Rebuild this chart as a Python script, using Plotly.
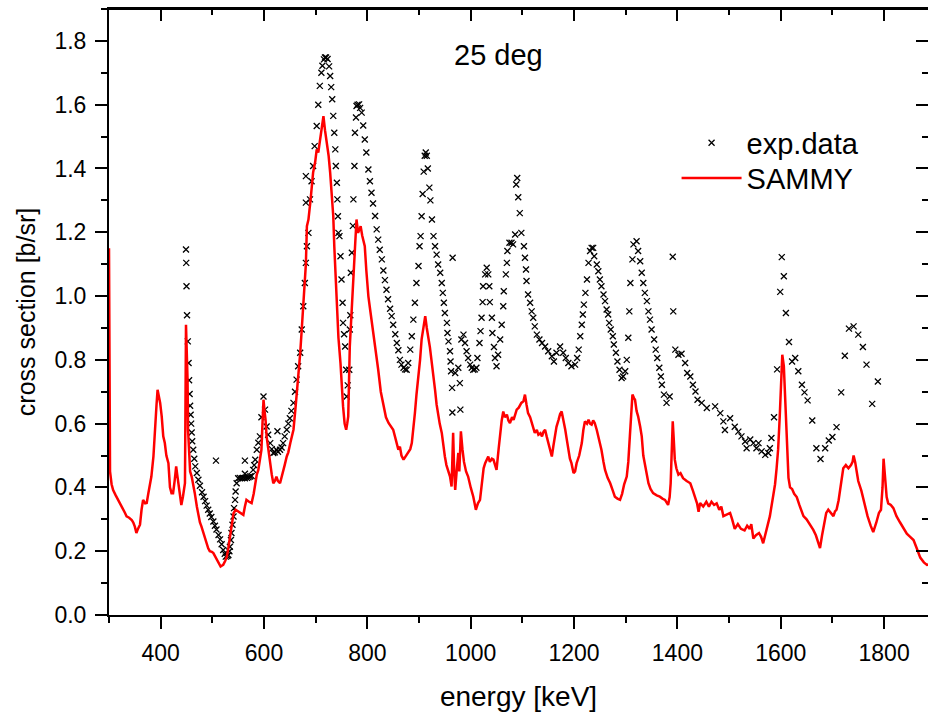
import plotly.graph_objects as go

# experimental points (energy in keV, cross section in b/sr)
exp_energy = [
    449, 449.5, 450, 451, 452.5, 454, 455, 456, 457, 458, 459, 460,
    461, 463, 465, 467, 470, 473, 476, 480, 483, 486, 489, 492, 495, 498,
    502, 505, 508, 512, 515, 518, 521, 524, 526, 529, 531, 533, 534, 536,
    537, 539, 541, 542, 544, 545, 547, 550, 553, 557, 560, 563, 567, 570,
    573, 576, 579, 581, 583, 586, 589, 592, 595, 599, 602, 605, 608, 612,
    615, 618, 621, 624, 627, 631, 634, 637, 640, 644, 647, 650, 653, 657,
    660, 663, 666, 670, 673, 676, 679, 681, 683, 686, 689, 692, 695, 698,
    702, 705, 708, 711, 713, 716, 718, 720, 723, 726, 728, 730, 732, 734,
    736, 738, 739, 741, 742, 743, 744, 746, 748, 750, 752, 753, 755, 757,
    759, 760, 762, 765, 766, 767, 768, 770, 772, 773, 775, 776, 778, 779,
    781, 784, 786, 789, 792, 795, 798, 802, 805, 808, 811, 815, 818, 821,
    824, 828, 831, 834, 837, 840, 844, 847, 850, 854, 857, 860, 863, 866,
    870, 873, 876, 879, 883, 886, 889, 892, 895, 899, 901, 903, 905, 907,
    909, 911, 913, 915, 917, 920, 922, 925, 928, 931, 934, 937, 941, 944,
    946, 948, 950, 954, 955, 957, 960, 961, 962, 964, 964.5, 965, 970, 976,
    979, 980, 982, 986, 989, 992, 995, 999, 1002, 1005, 1008, 1011, 1013,
    1017, 1019, 1021, 1023, 1024, 1028, 1031, 1034, 1036, 1037, 1041, 1042,
    1045, 1047, 1050, 1053, 1057, 1060, 1063, 1064, 1068, 1070, 1071, 1075,
    1079, 1082, 1086, 1088, 1090, 1092, 1095, 1098, 1103, 1105, 1107, 1108,
    1111, 1115, 1118, 1121, 1124, 1128, 1133, 1138, 1144, 1150, 1157, 1161,
    1166, 1173, 1179, 1184, 1189, 1195, 1202, 1206, 1209, 1212, 1215, 1217,
    1219, 1222, 1225, 1228, 1231, 1234, 1237, 1239, 1244, 1247, 1250, 1253,
    1257, 1260, 1263, 1266, 1268, 1271, 1275, 1277, 1281, 1284, 1288, 1292,
    1295, 1299, 1302, 1305, 1307, 1309, 1313, 1315, 1321, 1324, 1328, 1331,
    1334, 1337, 1341, 1344, 1347, 1350, 1355, 1358, 1361, 1365, 1368, 1370,
    1374, 1379, 1385, 1391, 1392, 1396, 1402, 1408, 1415, 1419, 1425, 1430,
    1435, 1439, 1447, 1457, 1473, 1483, 1489, 1492, 1502, 1511, 1518, 1524,
    1531, 1534, 1541, 1547, 1553, 1557, 1563, 1570, 1576, 1579, 1582, 1587,
    1593, 1599, 1602, 1606, 1610, 1616, 1622, 1628, 1634, 1641, 1646, 1652,
    1661, 1669, 1677, 1686, 1693, 1700, 1708, 1717, 1724, 1732, 1741, 1750,
    1759, 1766, 1777, 1788,
    507, 563, 563, 681, 681, 626,
]
exp_xs = [
    1.146, 1.104, 1.031, 0.940, 0.858, 0.790, 0.736, 0.693, 0.656, 0.628, 0.600, 0.572,
    0.545, 0.518, 0.490, 0.466, 0.445, 0.424, 0.405, 0.385, 0.371, 0.357, 0.343, 0.330, 0.318, 0.307,
    0.293, 0.280, 0.268, 0.251, 0.237, 0.222, 0.204, 0.192, 0.183, 0.185, 0.188, 0.200, 0.214, 0.235,
    0.257, 0.283, 0.309, 0.335, 0.361, 0.387, 0.413, 0.429, 0.430, 0.429, 0.430, 0.429, 0.430, 0.432,
    0.434, 0.436, 0.455, 0.470, 0.487, 0.518, 0.540, 0.560, 0.620, 0.685, 0.644, 0.591, 0.565, 0.539,
    0.520, 0.508, 0.510, 0.518, 0.512, 0.518, 0.525, 0.539, 0.560, 0.581, 0.600, 0.617, 0.640, 0.665,
    0.700, 0.738, 0.780, 0.822, 0.895, 0.968, 1.041, 1.104, 1.156, 1.198, 1.303, 1.360, 1.408, 1.470,
    1.533, 1.600, 1.659, 1.700, 1.722, 1.742, 1.748, 1.748, 1.743, 1.720, 1.690, 1.655, 1.617, 1.565,
    1.512, 1.460, 1.408, 1.355, 1.303, 1.250, 1.198, 1.188, 1.125, 1.052, 0.979, 0.916, 0.880, 0.842,
    0.769, 0.685, 0.720, 0.769, 0.895, 0.940, 1.073, 1.136, 1.220, 1.303, 1.408, 1.512, 1.560, 1.596,
    1.600, 1.601, 1.590, 1.575, 1.535, 1.491, 1.450, 1.397, 1.360, 1.324, 1.290, 1.251, 1.209, 1.177,
    1.145, 1.115, 1.080, 1.050, 1.020, 0.990, 0.960, 0.937, 0.910, 0.880, 0.853, 0.830, 0.800, 0.785,
    0.775, 0.770, 0.769, 0.790, 0.832, 0.874, 0.926, 0.979, 1.041, 1.094, 1.156, 1.188, 1.250, 1.320,
    1.390, 1.440, 1.450, 1.440, 1.400, 1.340, 1.300, 1.240, 1.188, 1.156, 1.130, 1.099, 1.073, 1.041,
    1.010, 0.979, 0.947, 0.916, 0.884, 0.858, 0.827, 0.795, 0.764, 0.712, 0.635, 1.120, 0.759, 0.775,
    0.727, 0.644, 0.864, 0.879, 0.853, 0.827, 0.806, 0.785, 0.775, 0.769, 0.770, 0.775, 0.806,
    0.853, 0.890, 0.932, 0.981, 1.031, 1.068, 1.089, 1.068, 1.031, 0.981, 0.932, 0.884,
    0.840, 0.806, 0.780, 0.816, 0.864, 0.910, 0.968, 1.015, 1.068, 1.104, 1.141, 1.167,
    1.167, 1.162, 1.193, 1.350, 1.370, 1.310, 1.260, 1.198, 1.156, 1.120, 1.083, 1.047,
    1.005, 0.979, 0.952, 0.932, 0.905, 0.879, 0.864, 0.853, 0.842, 0.827, 0.811, 0.795,
    0.822, 0.842, 0.822, 0.806, 0.790, 0.780, 0.785, 0.806, 0.832, 0.874, 0.910, 0.942,
    0.973, 1.010, 1.052, 1.104, 1.141, 1.151, 1.151, 1.125, 1.099, 1.078, 1.052, 1.031,
    1.005, 0.984, 0.958, 0.942, 0.916, 0.895, 0.874, 0.848, 0.822, 0.795, 0.769, 0.743,
    0.748, 0.764, 0.800, 0.869, 0.952, 1.041, 1.115, 1.162, 1.172, 1.141, 1.109, 1.073,
    1.041, 1.010, 0.984, 0.952, 0.926, 0.895, 0.864, 0.832, 0.806, 0.775, 0.748, 0.722,
    0.691, 0.665, 0.685, 1.123, 0.952, 0.832, 0.816, 0.819, 0.790, 0.759, 0.748, 0.722,
    0.701, 0.675, 0.665, 0.649, 0.654, 0.633, 0.607, 0.580, 0.617, 0.590, 0.575, 0.560,
    0.544, 0.523, 0.550, 0.539, 0.523, 0.539, 0.513, 0.502, 0.508, 0.523, 0.555, 0.620,
    0.770, 1.013, 1.122, 1.062, 0.947, 0.856, 0.795, 0.806, 0.764, 0.722, 0.698, 0.673,
    0.610, 0.523, 0.489, 0.523, 0.547, 0.558, 0.589, 0.698, 0.813, 0.898, 0.905, 0.879,
    0.840, 0.785, 0.662, 0.732,
    0.484, 0.484, 0.443, 1.376, 1.293, 0.576,
]

# SAMMY fit
sammy_energy = [
    300, 301, 302, 305, 308, 313, 318, 323, 328, 331, 334, 339, 344, 347, 350,
    353, 356, 360, 363, 366, 370, 373, 376, 379, 382, 386, 389, 392, 394, 396,
    399, 402, 405, 408, 411, 415, 418, 421, 424, 427, 430, 432, 434, 437, 440,
    443, 447, 449, 451, 452, 453, 455, 457, 460, 463, 466, 470, 473, 476, 479,
    482, 486, 489, 492, 495, 499, 502, 505, 508, 512, 516, 519, 521, 525, 528,
    531, 534, 537, 541, 545, 550, 555, 560, 563, 566, 571, 576, 580, 583, 586,
    589, 592, 595, 597, 599, 601, 603, 605, 608, 612, 615, 618, 621, 624, 627,
    631, 634, 637, 640, 644, 647, 651, 657, 661, 666, 670, 673, 676, 679, 681,
    683, 686, 690, 695, 699, 702, 705, 708, 712, 715, 718, 721, 725, 728, 731,
    734, 736, 739, 741, 744, 748, 751, 753, 756, 759, 761, 763, 766, 769, 773,
    776, 779, 782, 785, 787, 790, 792, 795, 798, 802, 806, 811, 816, 821, 826,
    831, 836, 841, 846, 850, 855, 860, 863, 866, 870, 875, 879, 883, 886, 889,
    892, 895, 899, 902, 905, 909, 912, 915, 918, 921, 924, 927, 931, 934, 937,
    940, 944, 947, 950, 953, 957, 960, 963, 966, 968, 970, 973, 976, 978, 981,
    984, 987, 991, 995, 1000, 1005, 1010, 1014, 1018, 1022, 1025, 1028, 1031,
    1034, 1037, 1041, 1044, 1047, 1050, 1054, 1057, 1060, 1063, 1066, 1070,
    1073, 1076, 1080, 1083, 1086, 1089, 1093, 1098, 1102, 1105, 1108, 1111,
    1115, 1118, 1121, 1124, 1128, 1131, 1135, 1138, 1141, 1144, 1147, 1150,
    1154, 1157, 1160, 1163, 1166, 1170, 1173, 1176, 1180, 1183, 1186, 1189,
    1192, 1195, 1199, 1202, 1205, 1210, 1215, 1218, 1221, 1225, 1228, 1231,
    1234, 1237, 1240, 1244, 1247, 1250, 1253, 1257, 1260, 1265, 1270, 1275,
    1279, 1284, 1289, 1293, 1297, 1302, 1305, 1308, 1311, 1313, 1316, 1318,
    1321, 1324, 1328, 1331, 1334, 1337, 1340, 1344, 1348, 1353, 1360, 1366,
    1371, 1376, 1382, 1385, 1387, 1389, 1391, 1393, 1395, 1398, 1402, 1406,
    1411, 1418, 1425, 1430, 1434, 1438, 1441, 1444, 1450, 1456, 1461, 1466,
    1471, 1476, 1481, 1485, 1489, 1495, 1502, 1506, 1511, 1517, 1523, 1530,
    1535, 1540, 1543, 1547, 1552, 1558, 1562, 1566, 1570, 1575, 1579, 1584,
    1589, 1592, 1595, 1598, 1601, 1603, 1606, 1609, 1612, 1615, 1618, 1622,
    1626, 1631, 1636, 1640, 1644, 1650, 1656, 1663, 1668, 1672, 1676, 1680,
    1684, 1688, 1692, 1697, 1702, 1705, 1708, 1712, 1716, 1721, 1726, 1731,
    1736, 1739, 1741, 1744, 1747, 1750, 1756, 1763, 1768, 1774, 1779, 1785,
    1790, 1794, 1797, 1799, 1802, 1805, 1808, 1813, 1818, 1824, 1831, 1838,
    1844, 1850, 1857, 1863, 1870, 1877, 1883, 1890,
]
sammy_xs = [
    1.150, 0.600, 0.450, 0.410, 0.392, 0.375, 0.361, 0.345, 0.330, 0.320, 0.309, 0.305, 0.298, 0.290, 0.277,
    0.257, 0.270, 0.283, 0.330, 0.361, 0.350, 0.351, 0.380, 0.403, 0.434, 0.497, 0.602, 0.660, 0.706, 0.690,
    0.665, 0.623, 0.560, 0.539, 0.500, 0.476, 0.400, 0.382, 0.382, 0.420, 0.466, 0.440, 0.413, 0.380, 0.345,
    0.370, 0.413, 0.910, 0.800, 0.738, 0.581, 0.500, 0.450, 0.434, 0.400, 0.382, 0.340, 0.309, 0.290, 0.277,
    0.260, 0.235, 0.220, 0.209, 0.200, 0.198, 0.194, 0.185, 0.173, 0.160, 0.152, 0.155, 0.157, 0.170, 0.183,
    0.210, 0.246, 0.280, 0.319, 0.330, 0.324, 0.320, 0.314, 0.340, 0.361, 0.355, 0.351, 0.380, 0.413, 0.440,
    0.455, 0.490, 0.518, 0.600, 0.675, 0.640, 0.612, 0.560, 0.518, 0.466, 0.440, 0.413, 0.420, 0.434, 0.420,
    0.413, 0.430, 0.455, 0.470, 0.497, 0.510, 0.540, 0.581, 0.650, 0.738, 0.820, 0.895, 0.980, 1.052, 1.100,
    1.219, 1.240, 1.300, 1.387, 1.420, 1.460, 1.450, 1.481, 1.520, 1.564, 1.520, 1.491, 1.440, 1.387, 1.320,
    1.251, 1.156, 1.050, 0.947, 0.870, 0.790, 0.700, 0.654, 0.600, 0.581, 0.600, 0.623, 0.842, 0.950, 1.052,
    1.150, 1.240, 1.198, 1.210, 1.219, 1.190, 1.177, 1.156, 1.080, 0.999, 0.950, 0.895, 0.830, 0.769, 0.700,
    0.654, 0.620, 0.602, 0.590, 0.581, 0.550, 0.518, 0.528, 0.500, 0.487, 0.500, 0.513, 0.520, 0.539, 0.580,
    0.633, 0.690, 0.748, 0.800, 0.864, 0.900, 0.937, 0.900, 0.874, 0.840, 0.800, 0.750, 0.706, 0.660, 0.623,
    0.600, 0.571, 0.530, 0.497, 0.470, 0.445, 0.434, 0.403, 0.571, 0.450, 0.392, 0.455, 0.508, 0.450, 0.576,
    0.520, 0.480, 0.450, 0.434, 0.400, 0.371, 0.330, 0.350, 0.361, 0.420, 0.460, 0.476, 0.490,
    0.497, 0.480, 0.490, 0.487, 0.470, 0.455, 0.520, 0.571, 0.610, 0.638, 0.620, 0.628,
    0.610, 0.602, 0.620, 0.612, 0.630, 0.644, 0.650, 0.665, 0.670, 0.691, 0.660, 0.633,
    0.620, 0.602, 0.585, 0.571, 0.580, 0.565, 0.570, 0.560, 0.575, 0.581, 0.560, 0.539,
    0.520, 0.497, 0.530, 0.560, 0.590, 0.612, 0.630, 0.638, 0.610, 0.581, 0.550, 0.518,
    0.490, 0.476, 0.445, 0.450, 0.476, 0.500, 0.539, 0.580, 0.607, 0.600, 0.612, 0.600,
    0.597, 0.610, 0.602, 0.580, 0.560, 0.540, 0.518, 0.480, 0.455, 0.430, 0.413, 0.390,
    0.371, 0.365, 0.361, 0.380, 0.410, 0.434, 0.480, 0.560, 0.650, 0.691, 0.680, 0.675,
    0.640, 0.623, 0.590, 0.560, 0.500, 0.476, 0.450, 0.413, 0.395, 0.382, 0.375, 0.371,
    0.365, 0.361, 0.345, 0.370, 0.413, 0.520, 0.607, 0.550, 0.487, 0.460, 0.440, 0.445,
    0.429, 0.420, 0.413, 0.390, 0.371, 0.350, 0.324, 0.351, 0.340, 0.355, 0.340, 0.355,
    0.345, 0.350, 0.330, 0.340, 0.310, 0.315, 0.320, 0.300, 0.270, 0.285, 0.270, 0.265,
    0.280, 0.270, 0.285, 0.240, 0.250, 0.257, 0.245, 0.225, 0.250, 0.280, 0.310, 0.360,
    0.410, 0.460, 0.520, 0.620, 0.760, 0.816, 0.780, 0.650, 0.500, 0.430, 0.400, 0.395,
    0.380, 0.370, 0.345, 0.330, 0.310, 0.300, 0.285, 0.267, 0.250, 0.230, 0.210, 0.250,
    0.290, 0.320, 0.330, 0.320, 0.310, 0.325, 0.330, 0.360, 0.410, 0.460, 0.470, 0.460,
    0.470, 0.480, 0.500, 0.480, 0.450, 0.420, 0.390, 0.340, 0.310, 0.280, 0.260, 0.290,
    0.320, 0.330, 0.400, 0.490, 0.420, 0.370, 0.350, 0.345, 0.335, 0.310, 0.290, 0.270,
    0.255, 0.246, 0.235, 0.210, 0.180, 0.165, 0.157, 0.160,
]

x_ticks = [400, 600, 800, 1000, 1200, 1400, 1600, 1800]
y_ticks = [0.0, 0.2, 0.4, 0.6, 0.8, 1.0, 1.2, 1.4, 1.6, 1.8]
x_range = [300, 1885]
y_range = [0, 1.9]

FONT = "Liberation Sans, Arial, sans-serif"

fig = go.Figure()

fig.add_trace(go.Scatter(
    x=exp_energy, y=exp_xs, mode="markers", name="exp.data", legend="legend",
    marker=dict(symbol="x-thin", size=6, color="black",
                line=dict(width=1.3, color="black")),
))
# SAMMY goes on the overlaid x2/y2 axes (same ranges) so the top and
# right inward tick axes get drawn
fig.add_trace(go.Scatter(
    x=sammy_energy, y=sammy_xs, mode="lines", name="SAMMY", legend="legend2",
    xaxis="x2", yaxis="y2",
    line=dict(color="#ff0000", width=2.5),
))

axis_common = dict(showgrid=False, zeroline=False, tickcolor="black",
                   tickwidth=2, ticklen=12, automargin=False)
legend_common = dict(xanchor="left", yanchor="middle", bgcolor="rgba(0,0,0,0)",
                     font=dict(size=29), itemwidth=60)

fig.update_layout(
    width=928, height=715,
    margin=dict(l=109, r=0, t=9, b=100, autoexpand=False),
    paper_bgcolor="white", plot_bgcolor="white",
    font=dict(family=FONT, color="black"),
    showlegend=True,
    legend=dict(x=0.693, y=0.779, **legend_common),
    legend2=dict(x=0.693, y=0.721, **legend_common),
    xaxis=dict(
        range=x_range, tickvals=x_ticks, ticks="outside",
        showline=True, linecolor="black", linewidth=2, mirror=True,
        tickfont=dict(size=23), ticklabelstandoff=4,
        minor=dict(dtick=100, tick0=300, ticks="outside", ticklen=6,
                   tickwidth=2, tickcolor="black"),
        title=dict(text="energy [keV]", font=dict(size=28), standoff=22),
        **axis_common,
    ),
    yaxis=dict(
        range=y_range, tickvals=y_ticks, ticktext=[f"{v:.1f}" for v in y_ticks],
        ticks="outside",
        showline=True, linecolor="black", linewidth=2, mirror=False,
        tickfont=dict(size=23), ticklabelstandoff=4,
        minor=dict(dtick=0.1, tick0=0, ticks="outside", ticklen=6,
                   tickwidth=2, tickcolor="black"),
        title=dict(text="cross section [b/sr]", font=dict(size=25), standoff=12),
        **axis_common,
    ),
    xaxis2=dict(
        overlaying="x", side="top", anchor="y2", range=x_range, tickvals=x_ticks,
        ticks="inside", showticklabels=False,
        showline=True, linecolor="black", linewidth=2,
        minor=dict(dtick=100, tick0=300, ticks="inside", ticklen=6,
                   tickwidth=2, tickcolor="black"),
        **axis_common,
    ),
    yaxis2=dict(
        overlaying="y", side="right", anchor="x2", range=y_range, tickvals=y_ticks,
        ticks="inside", showticklabels=False, showline=False,
        minor=dict(dtick=0.1, tick0=0, ticks="inside", ticklen=6,
                   tickwidth=2, tickcolor="black"),
        **axis_common,
    ),
    # top frame edge
    shapes=[dict(type="line", xref="paper", yref="paper", x0=0, x1=1, y0=1, y1=1,
                 line=dict(color="black", width=2), layer="above")],
    annotations=[dict(
        x=1053, y=1.755, xref="x", yref="y", text="25 deg", showarrow=False,
        font=dict(size=29, family=FONT, color="black"),
    )],
)

# the page's default 8px body margin would shift and clip the figure;
# pin the graph div to the page's top-left corner instead
fig.write_html("out.html", config={"displayModeBar": False},
               post_script="document.documentElement.style.margin='0';"
                           "document.body.style.margin='0';"
                           "document.body.style.padding='0';"
                           "document.body.style.overflow='hidden';"
                           "window.scrollTo(0,0);")
